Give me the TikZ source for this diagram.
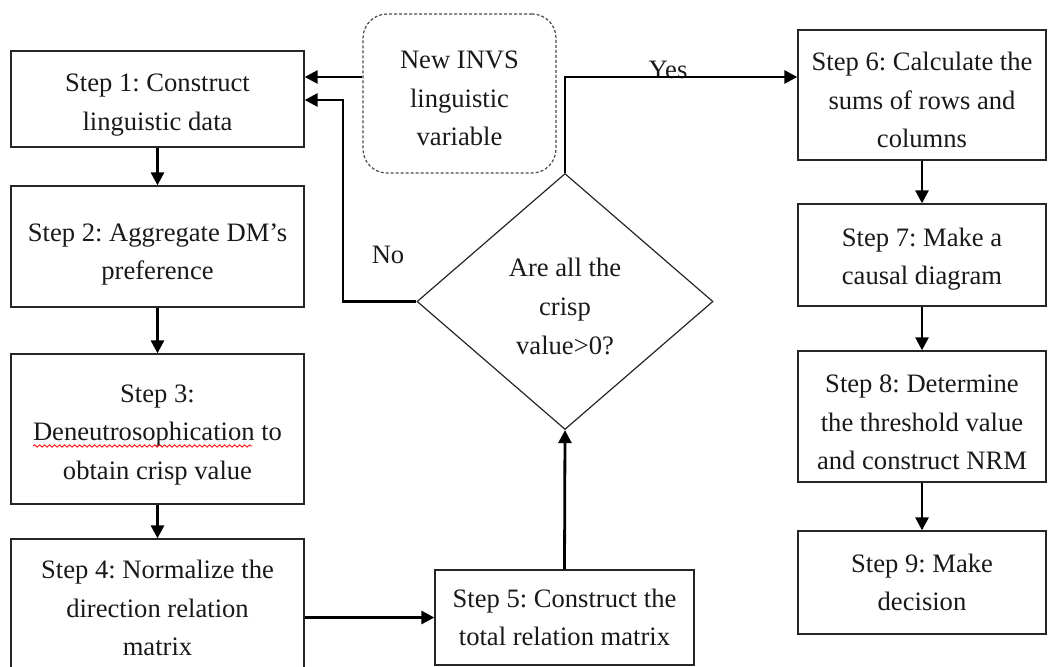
\documentclass[tikz,border=0pt]{standalone}
\usepackage{fontspec}
\setmainfont{Liberation Serif}
\usetikzlibrary{arrows.meta,shapes.geometric,decorations.pathmorphing}
\begin{document}
\frenchspacing
\begin{tikzpicture}[x=0.5pt,y=-0.5pt,
  every node/.style={font=\fontsize{13.3}{19.3}\selectfont, text=black!90, align=center},
  stepbox/.style={draw=black!85, line width=0.65pt, inner sep=0pt, rectangle},
  txt/.style={inner sep=0pt},
  flow/.style={line width=1.4pt, -{Triangle[length=6.5pt,width=6.5pt]}},
  lbl/.style={inner sep=0pt},
]
\useasboundingbox (0,0) rectangle (1049,667);

% left column
\node[stepbox, minimum width=146.5pt, minimum height=48pt] (s1) at (157.5,99) {};
\node[txt, yshift=-3pt] (s1t) at (s1.center) {Step 1: Construct\\linguistic data};
\node[stepbox, minimum width=146.5pt, minimum height=60.5pt] (s2) at (157.5,246.5) {};
\node[txt, yshift=-4pt] (s2t) at (s2.center) {Step 2: Aggregate DM’s\\preference};
\node[stepbox, minimum width=146.5pt, minimum height=75pt] (s3) at (157.5,429) {};
\node[txt, yshift=-3pt] (s3t) at (s3.center) {Step 3:\\Deneutrosophication to\\obtain crisp value};
\node[stepbox, minimum width=146.5pt, minimum height=69pt] (s4) at (157.5,608) {};
\node[txt] (s4t) at (s4.center) {Step 4: Normalize the\\direction relation\\matrix};

% middle
\node[stepbox, minimum width=129.5pt, minimum height=47.5pt] (s5) at (564.5,617.5) {};
\node[txt] (s5t) at (s5.center) {Step 5: Construct the\\total relation matrix};
\node[draw=black!85, line width=0.6pt, diamond, minimum width=148pt, minimum height=128pt, inner sep=0pt] (dia) at (565,301.5) {};
\node[txt, yshift=-2.5pt] (diat) at (dia.center) {Are all the\\crisp\\value>0?};
\node[draw=black!70, dash pattern=on 1.5pt off 1pt, line width=0.6pt, rounded corners=12pt, minimum width=96.5pt, minimum height=79.5pt, inner sep=0pt] (invs) at (459.5,93.5) {};
\node[txt, yshift=-2.5pt] (invst) at (invs.center) {New INVS\\linguistic\\variable};

% right column
\node[stepbox, minimum width=124pt, minimum height=65pt] (s6) at (922,95) {};
\node[txt, yshift=-2.5pt] (s6t) at (s6.center) {Step 6: Calculate the\\sums of rows and\\columns};
\node[stepbox, minimum width=124pt, minimum height=51pt] (s7) at (922,255) {};
\node[txt, yshift=-2pt] (s7t) at (s7.center) {Step 7: Make a\\causal diagram};
\node[stepbox, minimum width=124pt, minimum height=65.5pt] (s8) at (922,416.5) {};
\node[txt, yshift=-3pt] (s8t) at (s8.center) {Step 8: Determine\\the threshold value\\and construct NRM};
\node[stepbox, minimum width=124pt, minimum height=51.5pt] (s9) at (922,582.5) {};
\node[txt] (s9t) at (s9.center) {Step 9: Make\\decision};

% labels
\node[lbl] (yes) at (668,70) {Yes};
\node[lbl] (no) at (388,255) {No};

% helper coordinates
\coordinate (yA) at (0,77);
\coordinate (yB) at (0,100);
\coordinate (noX) at (343,0);

% connectors
\draw[flow] (invs.west |- yA) -- (s1.east |- yA);
\draw[flow] (dia.west) -- (noX |- dia.west) -- (noX |- yB) -- (s1.east |- yB);
\draw[flow] (dia.north) -- (dia.north |- yA) -- (s6.west |- yA);
\draw[flow] (s1) -- (s2);
\draw[flow] (s2) -- (s3);
\draw[flow] (s3) -- (s4);
\draw[flow] (s4.east |- s5.west) -- (s5.west);
\draw[flow] (s5.north) -- (dia.south);
\draw[flow] (s6) -- (s7);
\draw[flow] (s7) -- (s8);
\draw[flow] (s8) -- (s9);

% spell-check underline
\draw[red, line width=0.4pt, decorate, decoration={snake, amplitude=0.6pt, segment length=2.5pt}] (33,446) -- (252,446);
\end{tikzpicture}
\end{document}
